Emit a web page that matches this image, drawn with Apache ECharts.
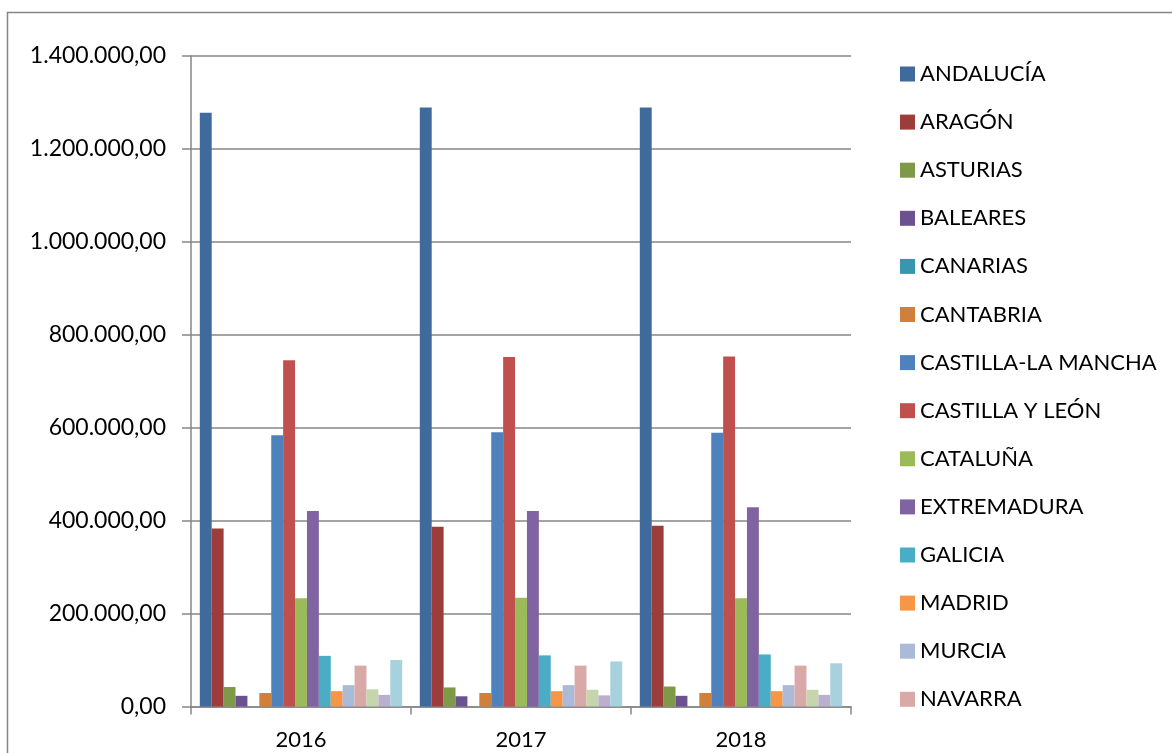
<!DOCTYPE html>
<html>
<head>
<meta charset="utf-8">
<script type="text/javascript" src="https://cdn.jsdelivr.net/npm/echarts@6/dist/echarts.min.js"></script>
<style>
    html, body { margin: 0; padding: 0; background: #fff; }
    #chart { width: 1172px; height: 753px; }
</style>
</head>
<body>
<div id="chart"></div>
<script type="text/javascript">
// categories (years)
var years = ['2016', '2017', '2018'];

// regions, in chart order (last three are cut off in the legend)
var regions = ['ANDALUCÍA', 'ARAGÓN', 'ASTURIAS', 'BALEARES', 'CANARIAS', 'CANTABRIA',
    'CASTILLA-LA MANCHA', 'CASTILLA Y LEÓN', 'CATALUÑA', 'EXTREMADURA', 'GALICIA',
    'MADRID', 'MURCIA', 'NAVARRA', 'PAÍS VASCO', 'RIOJA', 'VALENCIA'];

// values per region for 2016, 2017, 2018
var andalucia = [1278000, 1289000, 1289000];
var aragon = [383000, 387000, 389000];
var asturias = [42000, 41000, 43000];
var baleares = [23000, 22000, 23000];
var canarias = [0, 0, 0];
var cantabria = [29000, 29000, 29000];
var castillaLaMancha = [584000, 590000, 589000];
var castillaYLeon = [745000, 752000, 753000];
var cataluna = [233000, 234000, 233000];
var extremadura = [421000, 421000, 429000];
var galicia = [109000, 110000, 112000];
var madrid = [33000, 33000, 33000];
var murcia = [46000, 46000, 46000];
var navarra = [88000, 88000, 88000];
var paisVasco = [37000, 36000, 36000];
var rioja = [25000, 24000, 25000];
var valencia = [100000, 97000, 93000];

var values = [andalucia, aragon, asturias, baleares, canarias, cantabria,
    castillaLaMancha, castillaYLeon, cataluna, extremadura, galicia,
    madrid, murcia, navarra, paisVasco, rioja, valencia];

// y axis ticks
var yMax = 1400000;
var yStep = 200000;

var colors = ['#3F6A9C', '#9C3D3B', '#7E9A48', '#6B5190', '#3797AE', '#D0803A',
    '#4F81BD', '#C0504D', '#9BBB59', '#8064A2', '#4BACC6', '#F79646',
    '#AABAD7', '#D9A9A8', '#C6D6AC', '#BAAFCD', '#A7D1DD'];

function fmt(v) {
    var s = String(Math.round(v)).replace(/\B(?=(\d{3})+(?!\d))/g, '.');
    return s + ',00';
}

function ready() {
    var myChart = echarts.init(document.getElementById('chart'));
    var series = [];
    for (var i = 0; i < regions.length; i++) {
        series.push({
            name: regions[i],
            type: 'bar',
            barGap: '0%',
            barCategoryGap: '8%',
            data: values[i],
            itemStyle: { color: colors[i] }
        });
    }
    var option = {
        animation: false,
        color: colors,
        textStyle: { fontFamily: 'Lato' },
        graphic: [{
            type: 'rect',
            shape: { x: 7.5, y: 12.5, width: 1200, height: 800 },
            style: { fill: 'none', stroke: '#868686', lineWidth: 1.5 },
            silent: true
        }],
        grid: {
            left: 191,
            right: 321,
            top: 56,
            bottom: 46.5
        },
        legend: {
            orient: 'vertical',
            left: 895,
            top: 58,
            icon: 'rect',
            itemWidth: 15,
            itemHeight: 15,
            itemGap: 26.1,
            data: regions.slice(0, 14),
            textStyle: { fontSize: 22, color: '#000', lineHeight: 22, fontFamily: 'Lato' }
        },
        xAxis: [{
            type: 'category',
            data: years,
            axisLine: { lineStyle: { color: '#868686', width: 1.5 } },
            axisTick: { show: true, length: 8, lineStyle: { color: '#868686', width: 1.5 } },
            axisLabel: { color: '#000', fontSize: 22, margin: 22, fontFamily: 'Lato' }
        }],
        yAxis: [{
            type: 'value',
            min: 0,
            max: yMax,
            interval: yStep,
            axisLine: { show: true, lineStyle: { color: '#868686', width: 1.5 } },
            axisTick: { show: true, length: 9, lineStyle: { color: '#868686', width: 1.5 } },
            splitLine: { lineStyle: { color: '#868686', width: 1.5 } },
            axisLabel: { color: '#000', fontSize: 23, margin: 25, formatter: fmt, fontFamily: 'Lato' }
        }],
        series: series
    };
    myChart.setOption(option);
}
ready();
</script>
</body>
</html>
